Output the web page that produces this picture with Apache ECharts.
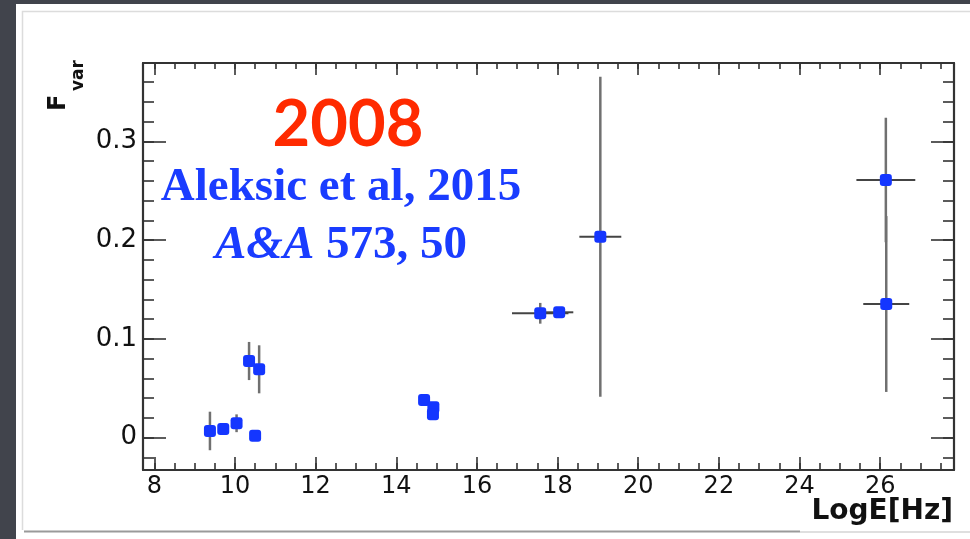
<!DOCTYPE html>
<html>
<head>
<meta charset="utf-8">
<script src="https://cdn.jsdelivr.net/npm/echarts@6/dist/echarts.min.js"></script>
<style>
html,body{margin:0;padding:0;background:#41444c;}
#chart{width:970px;height:539px;}
</style>
</head>
<body>
<div id="chart"></div>
<script>
// ---- data ----
var logE    = [9.38, 9.71, 10.04, 10.35, 10.60, 10.50, 14.69, 14.92, 14.91, 17.57, 18.04, 19.06, 26.14, 26.15];
var fvar    = [0.0068, 0.0088, 0.0146, 0.0776, 0.0692, 0.0020, 0.0382, 0.0307, 0.0237, 0.1259, 0.1269, 0.2034, 0.2608, 0.1353];
var fvarErr = [0.0195, 0.003, 0.009, 0.0193, 0.0243, 0.001, 0.002, 0.002, 0.002, 0.0105, 0.003, 0.162, 0.063, 0.089];
var logEErr = [0, 0, 0, 0, 0, 0, 0, 0, 0, 0.70, 0.35, 0.52, 0.73, 0.57];

var xMajor = [8, 10, 12, 14, 16, 18, 20, 22, 24, 26];
var yMajor = [0, 0.1, 0.2, 0.3];
var xMinorStep = 0.5;
var yMinorStep = 0.02;

var title = '2008';
var refLine1 = 'Aleksic et al, 2015';
var refJournal = 'A&A';
var refRest = ' 573, 50';
var xName = 'LogE[Hz]';
var yNameMain = 'F';
var yNameSub = 'var';

var xMin = 7.72, xMax = 27.83, yMin = -0.0327, yMax = 0.3792;

var xMinor = [], yMinor = [];
for (var v = 8; v <= 27.6; v += xMinorStep) xMinor.push(+v.toFixed(2));
for (var w = -0.02; w <= 0.37; w += yMinorStep) yMinor.push(+w.toFixed(3));

var pts = logE.map(function (x, i) { return [x, fvar[i], fvarErr[i], logEErr[i]]; });

var axisCol = '#333333';
function xAx(pos, vals, len, showLine, labels) {
  return {
    type: 'value', position: pos, min: xMin, max: xMax,
    axisLine: { show: showLine, onZero: false, lineStyle: { color: axisCol, width: 2.2 } },
    axisTick: { show: true, inside: true, customValues: vals, length: len, lineStyle: { color: axisCol, width: 1.6 } },
    axisLabel: labels ? { show: true, customValues: xMajor, margin: 5, color: '#111',
      fontFamily: 'DejaVu Sans', fontSize: 24 } : { show: false },
    splitLine: { show: false }
  };
}
function yAx(pos, vals, len, showLine, labels) {
  return {
    type: 'value', position: pos, min: yMin, max: yMax,
    axisLine: { show: showLine, onZero: false, lineStyle: { color: axisCol, width: 2.2 } },
    axisTick: { show: true, inside: true, customValues: vals, length: len, lineStyle: { color: axisCol, width: 1.6 } },
    axisLabel: labels ? { show: true, customValues: yMajor, margin: 6, color: '#111',
      fontFamily: 'DejaVu Sans', fontSize: 26,
      formatter: function (v) { return Math.abs(v) < 1e-9 ? '0' : (+v.toFixed(2)).toString(); } } : { show: false },
    splitLine: { show: false }
  };
}

var chart = echarts.init(document.getElementById('chart'), null, { renderer: 'canvas' });
chart.setOption({
  backgroundColor: '#41444c',
  animation: false,
  grid: { left: 143, top: 63, right: 16, bottom: 69, containLabel: false },
  xAxis: [
    xAx('bottom', xMajor, 13, true, true),
    xAx('bottom', xMinor, 7, false, false),
    xAx('top', xMajor, 12, true, false),
    xAx('top', xMinor, 6, false, false)
  ],
  yAxis: [
    yAx('left', yMajor, 23, true, true),
    yAx('left', yMinor, 11, false, false),
    yAx('right', yMajor, 23, true, false),
    yAx('right', yMinor, 11, false, false)
  ],
  graphic: [
    { type: 'rect', z: -10, shape: { x: 16, y: 4, width: 954, height: 535 }, style: { fill: '#ffffff' } },
    { type: 'polyline', z: -9, shape: { points: [[22.5, 530], [22.5, 11.5], [970, 11.5]] }, style: { stroke: '#dcdcdc', lineWidth: 1.5, fill: null } },
    { type: 'line', z: -9, shape: { x1: 24, y1: 531.5, x2: 800, y2: 531.5 }, style: { stroke: '#9a9a9a', lineWidth: 2 } },
    { type: 'line', z: -9, shape: { x1: 800, y1: 532, x2: 970, y2: 532 }, style: { stroke: '#d4d4d4', lineWidth: 1.5 } },
    { type: 'text', z: 10, x: 348, y: 125, style: { text: title, fill: '#ff2a00', font: 'bold 65px Lato', align: 'center', verticalAlign: 'middle' } },
    { type: 'text', z: 10, x: 341, y: 188, style: { text: refLine1, fill: '#1a3cff', font: 'bold 47px "Liberation Serif"', align: 'center', verticalAlign: 'middle' } },
    { type: 'text', z: 10, x: 341, y: 246, style: {
        text: '{a|' + refJournal + '}{b|' + refRest + '}', align: 'center', verticalAlign: 'middle',
        rich: {
          a: { fill: '#1a3cff', font: 'italic bold 47px "Liberation Serif"' },
          b: { fill: '#1a3cff', font: 'bold 47px "Liberation Serif"' }
        } } },
    { type: 'text', z: 10, x: 953, y: 512, style: { text: xName, fill: '#111', font: 'bold 28px "DejaVu Sans"', align: 'right', verticalAlign: 'middle' } },
    { type: 'text', z: 10, x: 59, y: 111, rotation: Math.PI / 2, style: { text: yNameMain, fill: '#111', font: 'bold 24px "DejaVu Sans"', align: 'left', verticalAlign: 'middle' } },
    { type: 'text', z: 10, x: 79, y: 91, rotation: Math.PI / 2, style: { text: yNameSub, fill: '#111', font: 'bold 17px "DejaVu Sans"', align: 'left', verticalAlign: 'middle' } }
  ],
  series: [
    {
      type: 'custom', xAxisIndex: 0, yAxisIndex: 0, z: 3,
      data: pts,
      renderItem: function (params, api) {
        var x = api.value(0), y = api.value(1), ey = api.value(2), ex = api.value(3);
        var children = [];
        if (ey > 0) {
          var p1 = api.coord([x, y - ey]), p2 = api.coord([x, y + ey]);
          children.push({ type: 'line', shape: { x1: p1[0], y1: p1[1], x2: p2[0], y2: p2[1] },
            style: { stroke: '#707070', lineWidth: 2.5 } });
        }
        if (ex > 0) {
          var q1 = api.coord([x - ex, y]), q2 = api.coord([x + ex, y]);
          children.push({ type: 'line', shape: { x1: q1[0], y1: q1[1], x2: q2[0], y2: q2[1] },
            style: { stroke: '#444444', lineWidth: 2 } });
        }
        return { type: 'group', children: children };
      }
    },
    {
      type: 'scatter', xAxisIndex: 0, yAxisIndex: 0, z: 5,
      data: pts.map(function (p) { return [p[0], p[1]]; }),
      symbol: 'roundRect', symbolSize: 12,
      itemStyle: { color: '#1436ff', opacity: 1 }
    }
  ]
});
</script>
</body>
</html>
